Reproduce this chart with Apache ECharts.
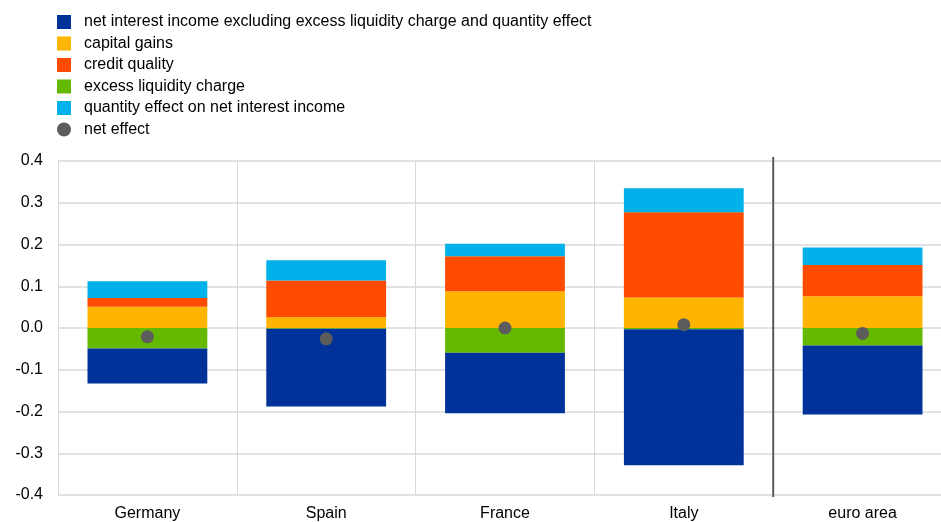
<!DOCTYPE html>
<html>
<head>
<meta charset="utf-8">
<script src="https://cdn.jsdelivr.net/npm/echarts@6/dist/echarts.min.js"></script>
<style>
  html, body { margin: 0; padding: 0; background: #fff; }
  #chart { width: 941px; height: 522px; }
</style>
</head>
<body>
<div id="chart"></div>
<script>
// categories
let countries = ['Germany', 'Spain', 'France', 'Italy', 'euro area'];

// series values (percentage points)
let niiExcl      = [-0.084, -0.186, -0.145, -0.326, -0.165];
let capitalGains = [0.051, 0.026, 0.088, 0.073, 0.076];
let creditQual   = [0.021, 0.088, 0.084, 0.204, 0.075];
let excessLiq    = [-0.049, -0.002, -0.059, -0.003, -0.042];
let quantityEff  = [0.040, 0.048, 0.030, 0.058, 0.042];
let netEffect    = [-0.021, -0.026, 0.000, 0.008, -0.013];

let names = [
  'net interest income excluding excess liquidity charge and quantity effect',
  'capital gains',
  'credit quality',
  'excess liquidity charge',
  'quantity effect on net interest income',
  'net effect'
];

let myChart = echarts.init(document.getElementById('chart'));

function barSerie(name, data, color) {
  return {
    name: name,
    type: 'bar',
    stack: 'total',
    barWidth: '67%',
    data: data,
    itemStyle: { color: color },
    emphasis: { disabled: true }
  };
}

let option = {
  animation: false,
  textStyle: { fontFamily: 'Liberation Sans, Arial, sans-serif' },
  legend: {
    orient: 'vertical',
    left: 57,
    top: 14,
    padding: 0,
    itemWidth: 14,
    itemHeight: 14,
    itemGap: 5.5,
    textStyle: { fontSize: 16, color: '#000', padding: [0, 0, 0, 8] },
    data: [
      { name: names[0], icon: 'rect' },
      { name: names[1], icon: 'rect' },
      { name: names[2], icon: 'rect' },
      { name: names[3], icon: 'rect' },
      { name: names[4], icon: 'rect' },
      { name: names[5], icon: 'circle' }
    ]
  },
  // plot area runs a little past the right edge of the window
  grid: { left: 58, width: 894, top: 161, bottom: 27, outerBoundsMode: 'none' },
  xAxis: {
    type: 'category',
    data: countries,
    axisTick: { show: false },
    axisLine: { show: false },
    axisLabel: { fontSize: 16, color: '#000', margin: 11 },
    splitLine: { show: true, interval: 0, lineStyle: { color: '#d9d9d9', width: 1 } }
  },
  yAxis: {
    type: 'value',
    min: -0.4,
    max: 0.4,
    interval: 0.1,
    axisLine: { show: false },
    axisTick: { show: false },
    axisLabel: {
      fontSize: 16,
      color: '#000',
      margin: 15,
      formatter: function (v) { return v.toFixed(1); }
    },
    splitLine: { lineStyle: { color: '#d9d9d9', width: 1.5 } }
  },
  series: [
    // excess liquidity first so it sits next to zero on the negative side
    barSerie(names[3], excessLiq, '#65b800'),
    barSerie(names[0], niiExcl, '#003299'),
    barSerie(names[1], capitalGains, '#ffb400'),
    barSerie(names[2], creditQual, '#ff4b00'),
    barSerie(names[4], quantityEff, '#00b1ea'),
    {
      name: names[5],
      type: 'scatter',
      data: netEffect,
      symbol: 'circle',
      symbolSize: 13,
      itemStyle: { color: '#5c5c5c', opacity: 1 },
      z: 5
    }
  ]
};

myChart.setOption(option);

// dark separator between the countries and the euro area
let sepX = (myChart.convertToPixel({ xAxisIndex: 0 }, 'Italy') + myChart.convertToPixel({ xAxisIndex: 0 }, 'euro area')) / 2;
let yTop = myChart.convertToPixel({ yAxisIndex: 0 }, 0.4) - 4;
let yBot = myChart.convertToPixel({ yAxisIndex: 0 }, -0.4) + 2;
myChart.setOption({
  graphic: [{
    type: 'line',
    shape: { x1: sepX, y1: yTop, x2: sepX, y2: yBot },
    style: { stroke: '#595959', lineWidth: 2 },
    z: 10
  }]
});
</script>
</body>
</html>
